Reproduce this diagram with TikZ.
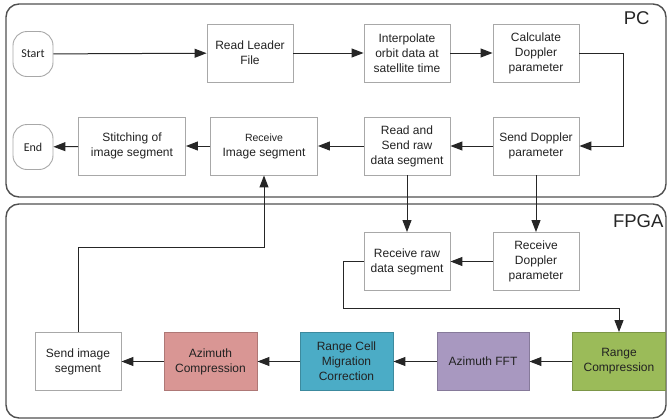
\documentclass[tikz,border=0pt]{standalone}
\usepackage{fontspec}
\setmainfont{Liberation Sans}
\newfontfamily\termfont{Carlito}
\usetikzlibrary{arrows.meta}
\definecolor{boxline}{HTML}{A8A8A8}
\definecolor{frameline}{HTML}{505050}
\definecolor{txt}{HTML}{222222}
\definecolor{rcgreen}{HTML}{9BBB59}
\definecolor{fftpurple}{HTML}{A898C0}
\definecolor{rcmcteal}{HTML}{4BACC6}
\definecolor{acpink}{HTML}{D99694}
\tikzset{
  stepbox/.style={draw=boxline, line width=0.9pt, fill=white, text=txt,
    minimum width=86pt, minimum height=58pt, align=center, inner sep=2pt,
    font=\fontsize{12}{15}\selectfont},
  termbox/.style={draw=boxline, line width=0.9pt, fill=white, text=txt,
    rounded corners=14pt, minimum width=40pt, minimum height=45pt,
    font=\termfont\fontsize{12}{14}\selectfont},
  framebox/.style={draw=frameline, line width=1.4pt, rounded corners=13pt},
  arr/.style={draw=black!85, line width=1.0pt, -{Triangle[length=12pt,width=9pt]}},
  frametitle/.style={text=black!85, font=\fontsize{18.5}{20}\selectfont, anchor=east}
}
\begin{document}
\begin{tikzpicture}[x=1pt,y=-1pt]
\useasboundingbox (0,0) rectangle (667,418);

% processing domains
\draw[framebox] (6,4) rectangle (666,197);
\draw[framebox] (6,204) rectangle (666,418);
\node[frametitle] (pc) at (653,18) {PC};
\node[frametitle] (fpga) at (667,221) {FPGA};

% PC side
\node[termbox] (start) at (33,54) {Start};
\node[termbox] (end) at (33,147) {End};
\node[stepbox] (leader) at (250,53) {Read Leader\\File};
\node[stepbox] (interp) at (407,53) {Interpolate\\orbit data at\\satellite time};
\node[stepbox] (calc) at (536,53) {Calculate\\Doppler\\parameter};
\node[stepbox] (senddop) at (536,146) {Send Doppler\\parameter};
\node[stepbox] (sendraw) at (407,146) {Read and\\Send raw\\data segment};
\node[stepbox, minimum width=107pt] (recvimg) at (264,146)
  {{\fontsize{10.5}{13}\selectfont Receive}\\Image segment};
\node[stepbox, minimum width=107pt] (stitch) at (132,146) {Stitching of\\image segment};

% FPGA side
\node[stepbox] (recvraw) at (407,261.5) {Receive raw\\data segment};
\node[stepbox] (recvdop) at (536,261.5) {Receive\\Doppler\\parameter};
\node[stepbox, minimum width=93pt, fill=rcgreen, draw=rcgreen!80!black] (rc) at (619,361.5) {Range\\Compression};
\node[stepbox, minimum width=92pt, fill=fftpurple, draw=fftpurple!80!black] (afft) at (483,361.5) {Azimuth FFT};
\node[stepbox, minimum width=93pt, fill=rcmcteal, draw=rcmcteal!80!black] (rcmc) at (346.5,361.5) {Range Cell\\Migration\\Correction};
\node[stepbox, minimum width=93pt, fill=acpink, draw=acpink!80!black] (ac) at (210.5,361.5) {Azimuth\\Compression};
\node[stepbox] (sendimg) at (78,361.5) {Send image\\segment};

% bend points
\coordinate (k1) at (343,308);
\coordinate (k2) at (264,247);

% PC flow
\draw[arr] (start) -- (leader);
\draw[arr] (leader) -- (interp);
\draw[arr] (interp) -- (calc);
\draw[arr] (calc.east) -- ++(44,0) |- (senddop.east);
\draw[arr] (senddop) -- (sendraw);
\draw[arr] (sendraw) -- (recvimg);
\draw[arr] (recvimg) -- (stitch);
\draw[arr] (stitch) -- (end);

% PC to FPGA
\draw[arr] (sendraw) -- (recvraw);
\draw[arr] (senddop) -- (recvdop);

% FPGA flow
\draw[arr] (recvdop) -- (recvraw);
\draw[arr] (recvraw.west) -| (k1) -| (rc.north);
\draw[arr] (rc) -- (afft);
\draw[arr] (afft) -- (rcmc);
\draw[arr] (rcmc) -- (ac);
\draw[arr] (ac) -- (sendimg);
\draw[arr] (sendimg.north) |- (k2) -- (recvimg.south);
\end{tikzpicture}
\end{document}
